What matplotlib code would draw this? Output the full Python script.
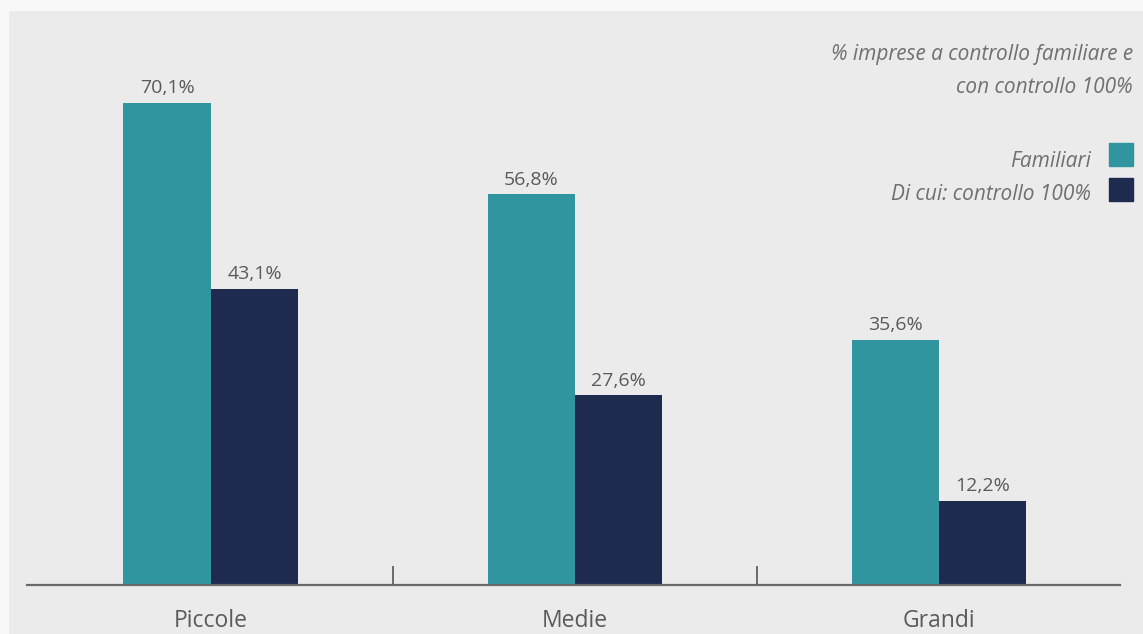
import numpy as np
import matplotlib.pyplot as plt
from matplotlib import font_manager as fm
from matplotlib.patches import Rectangle

plt.rcParams['font.family'] = ['Open Sans', 'DejaVu Sans']

# Quota di imprese per classe dimensionale
categorie = ["Piccole", "Medie", "Grandi"]
familiari = [70.1, 56.8, 35.6]
controllo_100 = [43.1, 27.6, 12.2]

serie_nomi = ["Familiari", "Di cui: controllo 100%"]
titolo = ["% imprese a controllo familiare e", "con controllo 100%"]
colori = ["#3195a0", "#1f2a4f"]
testo_grigio = "#5a5a5a"
testo_note = "#707070"
sfondo = "#ebebeb"

# corsivo statico di Open Sans (il file variabile esce condensato)
corsivo = {"family": ["Open Sans", "DejaVu Sans"], "style": "italic"}
for f in fm.fontManager.ttflist:
    if (f.name == "Open Sans" and f.style == "italic" and f.weight == 400
            and "[" not in f.fname):
        corsivo = {"fontproperties": fm.FontProperties(fname=f.fname)}
        break

W, H = 1143, 634
fig = plt.figure(figsize=(W / 100, H / 100), dpi=100, facecolor=sfondo)


def fx(px):
    return px / W


def fy(py):
    # coordinate in pixel dall'alto
    return 1 - py / H


# bordi chiari a sinistra e in alto
fig.patches.append(Rectangle((0, 0), fx(8), 1, transform=fig.transFigure,
                             color="#f8f8f8", zorder=0))
fig.patches.append(Rectangle((0, fy(10)), 1, 10 / H, transform=fig.transFigure,
                             color="#f8f8f8", zorder=0))

ax = fig.add_axes([fx(27), fy(585), fx(1093), 82 * 6.876 / H])
ax.set_facecolor(sfondo)
ax.patch.set_alpha(0)

x = np.arange(len(categorie))
w = 0.24

b1 = ax.bar(x - w / 2, familiari, width=w, color=colori[0])
b2 = ax.bar(x + w / 2, controllo_100, width=w, color=colori[1])

# etichette valori sopra le barre
for bars, vals in ((b1, familiari), (b2, controllo_100)):
    for rect, v in zip(bars, vals):
        ax.annotate(("%.1f%%" % v).replace(".", ","),
                    (rect.get_x() + rect.get_width() / 2, v),
                    xytext=(0, 7), textcoords="offset points",
                    ha="center", va="baseline", fontsize=14,
                    color=testo_grigio)

ax.set_xlim(-0.505, 2.497)
ax.set_ylim(0, 82)

for s in ("top", "right", "left"):
    ax.spines[s].set_visible(False)
ax.spines["bottom"].set_color("#6a6a6a")
ax.spines["bottom"].set_linewidth(1.6)
ax.set_yticks([])

# separatori tra i gruppi
ax.set_xticks([0.5, 1.5])
ax.set_xticklabels([])
ax.tick_params(axis="x", direction="in", length=13.5, width=1.4, color="#6a6a6a")

for xi, c in zip(x, categorie):
    ax.annotate(c, (xi, 0), xytext=(0, -42 * 0.72), textcoords="offset points",
                ha="center", va="baseline", fontsize=16.5, color=testo_grigio)

# titolo in alto a destra
for riga, base in zip(titolo, (60, 93)):
    t = fig.text(fx(1133), fy(base), riga, ha="right", va="baseline",
                 color=testo_note, **corsivo)
    t.set_fontsize(15)

# legenda
for nome, col, base, top in zip(serie_nomi, colori, (167, 200), (143, 178)):
    t = fig.text(fx(1091), fy(base), nome, ha="right", va="baseline",
                 color=testo_note, **corsivo)
    t.set_fontsize(15)
    fig.patches.append(Rectangle((fx(1109), fy(top + 23)), fx(24), 23 / H,
                                 transform=fig.transFigure, color=col))

fig.savefig("out.png", dpi=100, facecolor=sfondo)
